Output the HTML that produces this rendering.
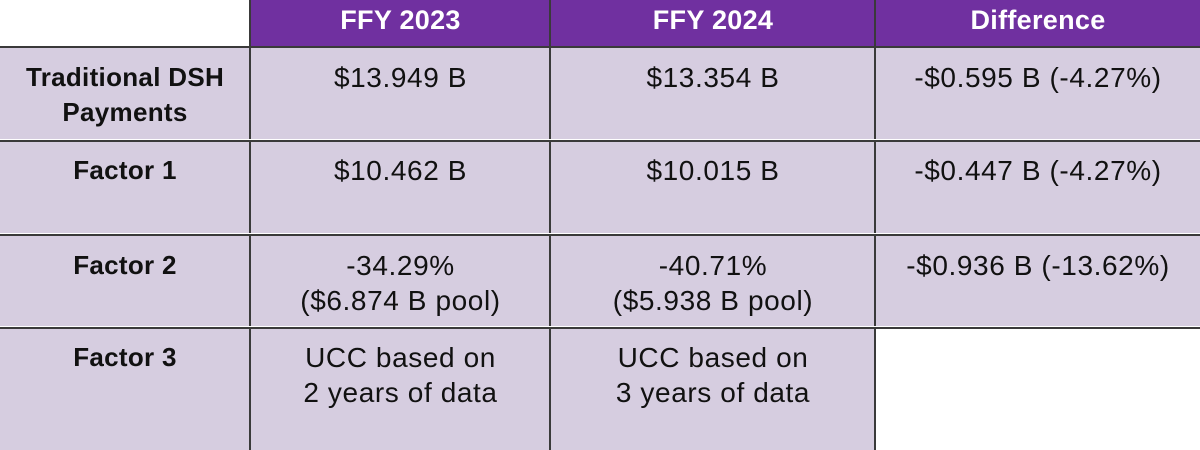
<!DOCTYPE html>
<html><head><style>
body{margin:0;width:1200px;height:450px;position:relative;overflow:hidden;background:#fff;font-family:"Liberation Sans",Arial,sans-serif;}
.c{position:absolute;box-sizing:border-box;text-align:center;font-size:28px;letter-spacing:0.6px;line-height:35px;color:#111;white-space:nowrap;}
.h{background:#7030a0;color:#fff;font-weight:bold;line-height:40px;font-size:27px;letter-spacing:0.3px;}
.l{background:#d6cde0;}
.b{font-weight:bold;font-size:26px;letter-spacing:0.3px;}
.v{position:absolute;top:0;width:2px;height:450px;background:#3a3a3a;}
.hz{position:absolute;height:2px;background:#3a3a3a;border-top:1px solid #fff;box-sizing:content-box;}
</style></head><body>
<div class="c h" style="left:251px;top:0;width:299px;height:47px;">FFY 2023</div>
<div class="c h" style="left:551px;top:0;width:324px;height:47px;">FFY 2024</div>
<div class="c h" style="left:876px;top:0;width:324px;height:47px;">Difference</div>

<div class="c l b" style="left:0;top:48px;width:250px;height:93px;padding-top:12px;line-height:35px;">Traditional DSH<br>Payments</div>
<div class="c l" style="left:251px;top:48px;width:299px;height:93px;padding-top:12px;">$13.949 B</div>
<div class="c l" style="left:551px;top:48px;width:324px;height:93px;padding-top:12px;">$13.354 B</div>
<div class="c l" style="left:876px;top:48px;width:324px;height:93px;padding-top:12px;">-$0.595 B (-4.27%)</div>

<div class="c l b" style="left:0;top:142px;width:250px;height:93px;padding-top:11px;">Factor 1</div>
<div class="c l" style="left:251px;top:142px;width:299px;height:93px;padding-top:11px;">$10.462 B</div>
<div class="c l" style="left:551px;top:142px;width:324px;height:93px;padding-top:11px;">$10.015 B</div>
<div class="c l" style="left:876px;top:142px;width:324px;height:93px;padding-top:11px;">-$0.447 B (-4.27%)</div>

<div class="c l b" style="left:0;top:236px;width:250px;height:92px;padding-top:12px;">Factor 2</div>
<div class="c l" style="left:251px;top:236px;width:299px;height:92px;padding-top:12px;">-34.29%<br>($6.874 B pool)</div>
<div class="c l" style="left:551px;top:236px;width:324px;height:92px;padding-top:12px;">-40.71%<br>($5.938 B pool)</div>
<div class="c l" style="left:876px;top:236px;width:324px;height:92px;padding-top:12px;">-$0.936 B (-13.62%)</div>

<div class="c l b" style="left:0;top:329px;width:250px;height:121px;padding-top:11px;">Factor 3</div>
<div class="c l" style="left:251px;top:329px;width:299px;height:121px;padding-top:11px;">UCC based on<br>2 years of data</div>
<div class="c l" style="left:551px;top:329px;width:324px;height:121px;padding-top:11px;">UCC based on<br>3 years of data</div>

<div class="v" style="left:249px;"></div>
<div class="v" style="left:549px;"></div>
<div class="v" style="left:874px;"></div>
<div class="hz" style="left:0;top:46px;width:1200px;border-top:none;"></div>
<div class="hz" style="left:0;top:139px;width:1200px;"></div>
<div class="hz" style="left:0;top:233px;width:1200px;"></div>
<div class="hz" style="left:0;top:326px;width:1200px;"></div>
</body></html>
